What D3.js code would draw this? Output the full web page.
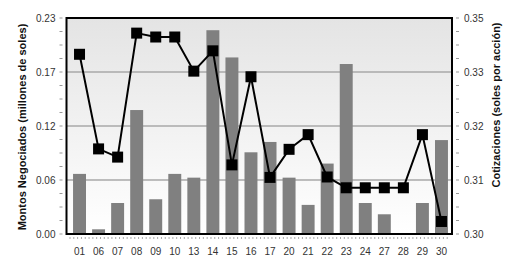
<!DOCTYPE html>
<html>
<head>
<meta charset="utf-8">
<script src="https://cdn.jsdelivr.net/npm/d3@7"></script>
<style>
  body { margin: 0; background: #fff; }
  svg { display: block; font-family: "Liberation Sans", Arial, sans-serif; }
</style>
</head>
<body>
<div id="chart"></div>
<script>
// trading days of the month
const days = ["01","06","07","08","09","10","13","14","15","16","17","20","21","22","23","24","27","28","29","30"];
// amounts traded (millions of soles) - bars, left axis
const montos = [0.064,0.005,0.033,0.132,0.037,0.064,0.060,0.217,0.188,0.087,0.098,0.060,0.031,0.075,0.181,0.033,0.021,0.001,0.033,0.100];
// share price (soles per share) - line, right axis
const cotiz = [0.3416,0.3197,0.3178,0.3465,0.3456,0.3456,0.3377,0.3424,0.3160,0.3364,0.3131,0.3196,0.3230,0.3132,0.3107,0.3107,0.3107,0.3107,0.3230,0.3029];
const leftTickLabels = ["0.00","0.06","0.12","0.17","0.23"];
const rightTickLabels = ["0.30","0.31","0.32","0.33","0.35"];

const W = 514, H = 262;
const plot = {left: 66.5, right: 452, top: 18, bottom: 234};

const svg = d3.select("#chart").append("svg")
    .attr("width", W)
    .attr("height", H);

const defs = svg.append("defs");
const grad = defs.append("linearGradient")
    .attr("id", "bg")
    .attr("x1", 0).attr("y1", 0).attr("x2", 0).attr("y2", 1);
grad.append("stop").attr("offset", "0%").attr("stop-color", "#e4e4e4");
grad.append("stop").attr("offset", "100%").attr("stop-color", "#ffffff");

const x = d3.scaleBand()
    .domain(days)
    .range([70, 451])
    .paddingInner(0.32)
    .paddingOuter(0.16);

const yL = d3.scaleLinear().domain([0, 0.23]).range([plot.bottom, plot.top]);
const yR = d3.scaleLinear().domain([0.30, 0.35]).range([plot.bottom, plot.top]);

const leftTicks = d3.range(5).map(i => i * 0.23 / 4);
const rightTicks = d3.range(5).map(i => 0.30 + i * 0.05 / 4);

// background
svg.append("rect")
    .attr("x", plot.left).attr("y", plot.top)
    .attr("width", plot.right - plot.left)
    .attr("height", plot.bottom - plot.top)
    .attr("fill", "url(#bg)");

// grid lines
svg.append("g").selectAll("line")
    .data(leftTicks.slice(1, 4))
    .join("line")
    .attr("x1", plot.left).attr("x2", plot.right)
    .attr("y1", d => yL(d)).attr("y2", d => yL(d))
    .attr("stroke", "#a8a8a8")
    .attr("stroke-width", 1.5);

// bars
svg.append("g").selectAll("rect")
    .data(montos)
    .join("rect")
    .attr("x", (d, i) => x(days[i]))
    .attr("y", d => yL(d))
    .attr("width", x.bandwidth())
    .attr("height", d => yL(0) - yL(d))
    .attr("fill", "#808080");

// price line
const line = d3.line()
    .x((d, i) => x(days[i]) + x.bandwidth() / 2)
    .y(d => yR(d));

svg.append("path")
    .datum(cotiz)
    .attr("d", line)
    .attr("fill", "none")
    .attr("stroke", "#000")
    .attr("stroke-width", 2);

const ms = 11;
svg.append("g").selectAll("rect")
    .data(cotiz)
    .join("rect")
    .attr("x", (d, i) => x(days[i]) + x.bandwidth() / 2 - ms / 2)
    .attr("y", d => yR(d) - ms / 2)
    .attr("width", ms)
    .attr("height", ms)
    .attr("fill", "#000");

// frame
svg.append("path")
    .attr("d", `M${plot.left},${plot.top}V${plot.bottom}H${plot.right}V${plot.top}Z`)
    .attr("fill", "none")
    .attr("stroke", "#000")
    .attr("stroke-width", 2);

// left axis
const gL = svg.append("g").attr("transform", `translate(${plot.left - 1},0)`);
const minorL = d3.range(17).map(i => i * 0.23 / 16);
gL.selectAll("line.minor")
    .data(minorL)
    .join("line")
    .attr("class", "minor")
    .attr("x1", -6).attr("x2", -3)
    .attr("y1", d => yL(d)).attr("y2", d => yL(d))
    .attr("stroke", "#999");
gL.selectAll("text")
    .data(leftTicks)
    .join("text")
    .attr("x", -10)
    .attr("y", d => yL(d))
    .attr("dy", "0.35em")
    .attr("text-anchor", "end")
    .attr("font-size", 10)
    .attr("fill", "#333")
    .text((d, i) => leftTickLabels[i]);

// right axis
const gR = svg.append("g").attr("transform", `translate(${plot.right + 1},0)`);
const minorR = d3.range(17).map(i => 0.30 + i * 0.05 / 16);
gR.selectAll("line.minor")
    .data(minorR)
    .join("line")
    .attr("class", "minor")
    .attr("x1", 3).attr("x2", 6)
    .attr("y1", d => yR(d)).attr("y2", d => yR(d))
    .attr("stroke", "#999");
gR.selectAll("text")
    .data(rightTicks)
    .join("text")
    .attr("x", 11)
    .attr("y", d => yR(d))
    .attr("dy", "0.35em")
    .attr("font-size", 10)
    .attr("fill", "#333")
    .text((d, i) => rightTickLabels[i]);

// bottom axis
const gB = svg.append("g");
const step = x.step();
const minorB = [];
days.forEach((d, i) => {
    for (let k = 0; k < 5; k++) minorB.push(x(d) - x.step() * x.paddingInner() / 2 + k * step / 5);
});
gB.selectAll("line")
    .data(minorB)
    .join("line")
    .attr("x1", d => d).attr("x2", d => d)
    .attr("y1", plot.bottom + 3).attr("y2", plot.bottom + 5)
    .attr("stroke", "#aaa");
gB.selectAll("text")
    .data(days)
    .join("text")
    .attr("x", d => x(d) + x.bandwidth() / 2)
    .attr("y", 255)
    .attr("text-anchor", "middle")
    .attr("font-size", 10)
    .attr("fill", "#333")
    .text(d => d);

// axis titles
svg.append("text")
    .attr("transform", "translate(26,127) rotate(-90)")
    .attr("text-anchor", "middle")
    .attr("font-size", 11)
    .attr("font-weight", "bold")
    .attr("fill", "#111")
    .text("Montos Negociados (millones de soles)");

svg.append("text")
    .attr("transform", "translate(500,105) rotate(-90)")
    .attr("text-anchor", "middle")
    .attr("font-size", 11)
    .attr("font-weight", "bold")
    .attr("fill", "#111")
    .text("Cotizaciones (soles por acción)");
</script>
</body>
</html>
